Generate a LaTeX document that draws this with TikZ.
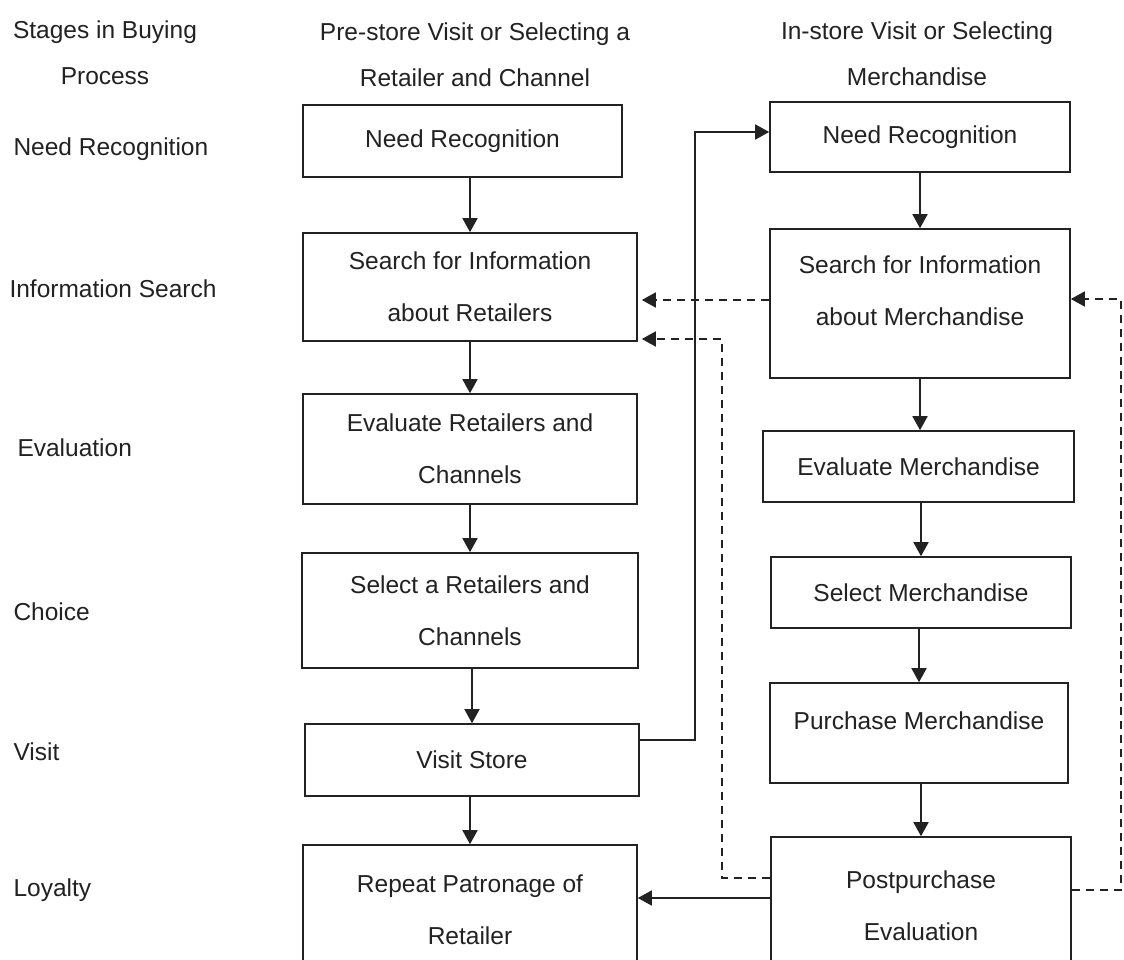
\documentclass[tikz,border=0pt]{standalone}
\usepackage{fontspec}
\setmainfont{Liberation Sans}
\usetikzlibrary{arrows.meta}
\definecolor{ink}{HTML}{222222}
\begin{document}
\begin{tikzpicture}[x=1pt,y=-1pt,
  every node/.style={font=\fontsize{24.5}{52}\selectfont, text=ink},
  box/.style={draw=ink, line width=1.6pt, align=center, inner sep=0pt},
  lbl/.style={anchor=west},
  head/.style={align=center, font=\fontsize{24.5}{46}\selectfont},
  arr/.style={draw=ink, line width=1.6pt, -{Triangle[length=14pt,width=15pt]}},
  darr/.style={arr, dash pattern=on 8pt off 6pt},
]
\useasboundingbox (0,0) rectangle (1124,960);
\clip (0,0) rectangle (1124,960);
\fill[white] (0,0) rectangle (1124,960);

% column headings
\node[head] (h0) at (105,53) {Stages in Buying\\Process};
\node[head] (h1) at (475,55) {Pre-store Visit or Selecting a\\Retailer and Channel};
\node[head] (h2) at (917,54) {In-store Visit or Selecting\\Merchandise};

% stage labels
\node[lbl] (s1) at (10,149) {Need Recognition};
\node[lbl] (s2) at (6,289) {Information Search};
\node[lbl] (s3) at (14,448) {Evaluation};
\node[lbl] (s4) at (10,612) {Choice};
\node[lbl] (s5) at (10,752) {Visit};
\node[lbl] (s6) at (10,890) {Loyalty};

% pre-store column
\node[box, minimum width=319pt, minimum height=72pt]  (nl1) at (462.5,141) {Need Recognition};
\node[box, minimum width=334pt, minimum height=108pt] (nl2) at (470,287) {Search for Information\\about Retailers};
\node[box, minimum width=334pt, minimum height=110pt] (nl3) at (470,449) {Evaluate Retailers and\\Channels};
\node[box, minimum width=336pt, minimum height=115pt] (nl4) at (470,610.5) {Select a Retailers and\\Channels};
\node[box, minimum width=334pt, minimum height=72pt]  (nl5) at (472,760) {Visit Store};
\node[box, minimum width=334pt, minimum height=130pt] (nl6) at (470,910) {Repeat Patronage of\\Retailer};

% in-store column
\node[box, minimum width=300pt, minimum height=70pt]  (nr1) at (920,137) {Need Recognition};
\node[box, minimum width=300pt, minimum height=149pt] (nr2) at (920,303.5) {Search for Information\\about Merchandise\\[-27pt]\mbox{}};
\node[box, minimum width=311pt, minimum height=71pt]  (nr3) at (918.5,466.5) {Evaluate Merchandise};
\node[box, minimum width=300pt, minimum height=71pt]  (nr4) at (921,592.5) {Select Merchandise};
\node[box, minimum width=298pt, minimum height=100pt] (nr5) at (919,733) {Purchase Merchandise\\[-27pt]\mbox{}};
\node[box, minimum width=300pt, minimum height=138pt] (nr6) at (921,906) {Postpurchase\\Evaluation};

% flow within the pre-store column
\draw[arr] (nl1.south -| nl2.north) -- (nl2.north);
\draw[arr] (nl2.south -| nl3.north) -- (nl3.north);
\draw[arr] (nl3.south -| nl4.north) -- (nl4.north);
\draw[arr] (nl4.south -| nl5.north) -- (nl5.north);
\draw[arr] (nl5.south -| nl6.north) -- (nl6.north);

% flow within the in-store column
\draw[arr] (nr1.south) -- (nr1.south |- nr2.north);
\draw[arr] (nr2.south) -- (nr2.south |- nr3.north);
\draw[arr] (nr3.south -| nr4.north) -- (nr4.north);
\draw[arr] (nr4.south -| nr5.north) -- (nr5.north);
\draw[arr] (nr5.south -| nr6.north) -- (nr6.north);

% visiting the store starts the in-store process
\coordinate (vturn) at (695,740);
\draw[arr] ([yshift=20pt]nl5.east) -- (vturn) |- ([yshift=5pt]nr1.west);

% postpurchase evaluation leads to repeat patronage
\draw[arr] ([yshift=8pt]nr6.west) -- ([yshift=8pt]nr6.west -| nl6.east);

% feedback loops (dashed)
\draw[darr, shorten >=4pt] ([yshift=3.5pt]nr2.west) -- ([yshift=3.5pt]nr2.west -| nl2.east);
\coordinate (fbl) at (722,339);
\draw[darr, shorten >=4pt] ([yshift=28pt]nr6.west) -| (fbl) -- ([yshift=-52pt]nl2.east);
\coordinate (fbr) at (1121,299);
\draw[darr] ([yshift=16pt]nr6.east) -| (fbr) -- ([yshift=4.5pt]nr2.east);
\end{tikzpicture}
\end{document}
